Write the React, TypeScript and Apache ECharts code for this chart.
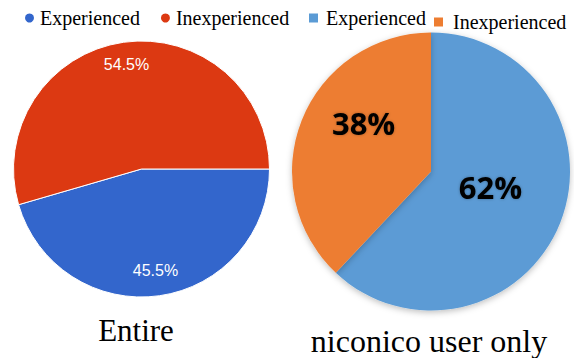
import React, { useEffect, useRef } from "react";
import * as echarts from "echarts";

const categories = ["Experienced", "Inexperienced"];
const entireValues = [45.5, 54.5];
const niconicoValues = [62, 38];
const entireColors = ["#3366cc", "#dc3912"];
const niconicoColors = ["#5b9bd5", "#ed7d31"];
const titles = ["Entire", "niconico user only"];

export default function App() {
  const ref = useRef<HTMLDivElement>(null);
  useEffect(() => {
    if (!ref.current) return;
    const chart = echarts.init(ref.current, undefined, { renderer: "svg" });
    const serif = "Liberation Serif";
    const legendText = { fontFamily: serif, fontSize: 20, color: "#000" };
    const option: any = {
      animation: false,
      backgroundColor: "#fff",
      legend: [
        {
          left: 23,
          top: 8,
          padding: 0,
          icon: "circle",
          itemWidth: 11,
          itemHeight: 11,
          itemGap: 19,
          data: categories.map((c, i) => ({ name: c, itemStyle: { color: entireColors[i] } })),
          textStyle: legendText,
          selectedMode: false,
        },
        {
          left: 307,
          top: 8,
          padding: 0,
          icon: "rect",
          itemWidth: 11,
          itemHeight: 11,
          data: [{ name: categories[0], itemStyle: { color: niconicoColors[0] } }],
          textStyle: { ...legendText, padding: [0, 0, 10, 2] },
          selectedMode: false,
        },
        {
          left: 432,
          top: 12,
          padding: 0,
          icon: "rect",
          itemWidth: 11,
          itemHeight: 11,
          data: [{ name: categories[1], itemStyle: { color: niconicoColors[1] } }],
          textStyle: { ...legendText, padding: [0, 0, 3, 4] },
          selectedMode: false,
        },
      ],
      graphic: [
        {
          type: "text",
          x: 136,
          y: 330,
          style: { text: titles[0], fontFamily: serif, fontSize: 31, fill: "#000", align: "center", verticalAlign: "middle" },
        },
        {
          type: "text",
          x: 429,
          y: 341,
          style: { text: titles[1], fontFamily: serif, fontSize: 32, fill: "#000", align: "center", verticalAlign: "middle" },
        },
      ],
      series: [
        {
          name: "Entire",
          type: "pie",
          center: [141.5, 169],
          radius: [0, 128],
          startAngle: 0,
          clockwise: true,
          silent: true,
          itemStyle: { borderColor: "#fff", borderWidth: 1 },
          data: categories.map((c, i) => ({ name: c, value: entireValues[i], itemStyle: { color: entireColors[i] } })),
          label: {
            show: true,
            position: "inside",
            formatter: (p: any) => p.value + "%",
            color: "#fff",
            fontFamily: "Liberation Sans",
            fontSize: 16,
          },
          labelLine: { show: false },
          labelLayout: (p: any) => (p.dataIndex === 0 ? { dx: 4.5, dy: 35.6 } : { dx: -5.5, dy: -38.6 }),
        },
        {
          name: "niconico",
          type: "pie",
          center: [431, 171.5],
          radius: [0, 139],
          startAngle: 90,
          clockwise: true,
          silent: true,
          itemStyle: { shadowBlur: 6, shadowColor: "rgba(0,0,0,0.25)", shadowOffsetY: 2 },
          data: categories.map((c, i) => ({ name: c, value: niconicoValues[i], itemStyle: { color: niconicoColors[i] } })),
          label: {
            show: true,
            position: "inside",
            formatter: (p: any) => p.value + "%",
            color: "#000",
            fontFamily: "Open Sans",
            fontWeight: "bold",
            fontSize: 31,
            textShadowBlur: 3,
            textShadowColor: "rgba(0,0,0,0.3)",
          },
          labelLine: { show: false },
          labelLayout: (p: any) => (p.dataIndex === 0 ? { dx: -8, dy: -11 } : { dx: 0, dy: -22 }),
        },
      ],
    };
    chart.setOption(option);
    return () => chart.dispose();
  }, []);
  return (
    <div
      ref={ref}
      style={{ position: "fixed", left: 0, top: 0, width: 574, height: 358 }}
    />
  );
}
